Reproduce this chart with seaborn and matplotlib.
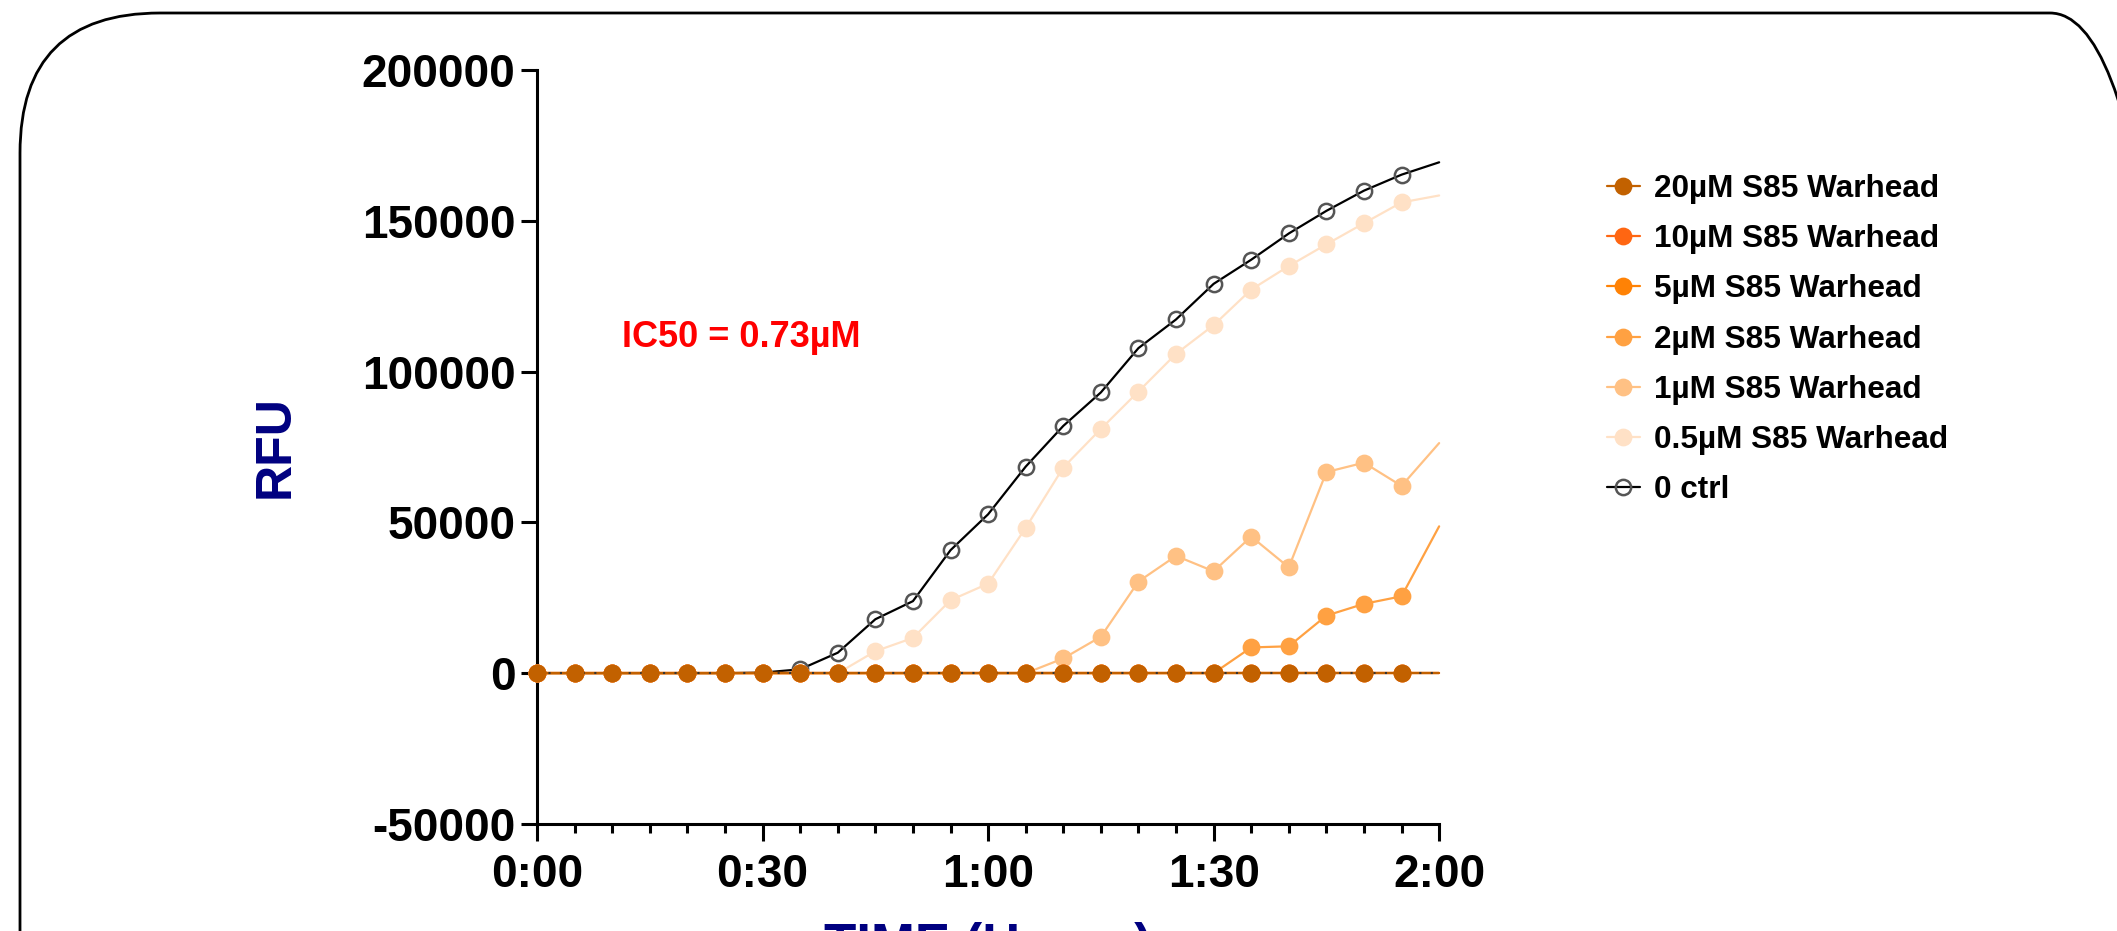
import matplotlib
matplotlib.use('Agg')
import matplotlib.pyplot as plt
from matplotlib.lines import Line2D
from matplotlib.patches import FancyBboxPatch
from matplotlib.transforms import IdentityTransform
import pandas as pd
import seaborn as sns

# time in minutes, one reading every 5 min
minutes = list(range(0, 125, 5))
major_ticks = [0, 30, 60, 90, 120]
time_labels = ['0:00', '0:30', '1:00', '1:30', '2:00']
rfu_ticks = [-50000, 0, 50000, 100000, 150000, 200000]

ctrl = [0, 0, 0, 0, 0, 0, 200, 1300, 6800, 17900, 23900, 40800, 52700,
        68500, 82000, 93100, 107800, 117300, 129100, 137100, 145800,
        153300, 160000, 165300, 169400]
w_05 = [0, 0, 0, 0, 0, 0, 0, 0, 0, 7300, 11700, 24200, 29700, 48200,
        68200, 81000, 93400, 105900, 115400, 127200, 135000, 142200,
        149200, 156100, 158400]
w_1 = [0, 0, 0, 0, 0, 0, 0, 0, 0, 0, 0, 0, 0, 0, 4900, 12100, 30400,
       38900, 33800, 45300, 35100, 66700, 69800, 62100, 76300]
w_2 = [0, 0, 0, 0, 0, 0, 0, 0, 0, 0, 0, 0, 0, 0, 0, 0, 0, 0, 0, 8550,
       8930, 19100, 23000, 25500, 48700]
w_5 = [0] * 25
w_10 = [0] * 25
w_20 = [0] * 25

names = ['20µM S85 Warhead', '10µM S85 Warhead', '5µM S85 Warhead',
         '2µM S85 Warhead', '1µM S85 Warhead', '0.5µM S85 Warhead', '0 ctrl']
colors = ['#C26100', '#FF6612', '#FF8205', '#FFA142', '#FFC184',
          '#FFE1C6', '#000000']

df = pd.DataFrame({'Minutes': minutes, names[0]: w_20, names[1]: w_10,
                   names[2]: w_5, names[3]: w_2, names[4]: w_1,
                   names[5]: w_05, names[6]: ctrl})
long = df.melt(id_vars='Minutes', var_name='Sample', value_name='RFU')

sns.set_theme(style='ticks')
plt.rcParams['font.family'] = ['Liberation Sans', 'DejaVu Sans']
plt.rcParams['font.weight'] = 'bold'
for key in ['text.color', 'axes.labelcolor', 'xtick.color', 'ytick.color',
            'axes.edgecolor']:
    plt.rcParams[key] = 'black'

fig = plt.figure(figsize=(21.17, 9.31), dpi=100)
ax = fig.add_axes([0.2537, 0.1149, 0.4261, 0.8099])

MS = 11
MEW = 1.8
marked = list(range(24))  # no marker on the 2:00 reading

# ctrl drawn first, 20µM last so the darkest points sit on top
handles = {}
for z, (name, col) in enumerate(reversed(list(zip(names, colors)))):
    sub = long[long['Sample'] == name]
    if name == '0 ctrl':
        mfc, mec = 'none', '#555555'
    else:
        mfc, mec = col, col
    top = name == names[0]
    sns.lineplot(data=sub, x='Minutes', y='RFU', ax=ax, color=col,
                 linewidth=1.6, marker=None if top else 'o', markersize=MS,
                 markerfacecolor=mfc, markeredgecolor=mec,
                 markeredgewidth=MEW, markevery=marked,
                 clip_on=False, zorder=3 + z, legend=False)
    handles[name] = Line2D([], [], color=col, linewidth=1.6, marker='o',
                           markersize=MS, markerfacecolor=mfc,
                           markeredgecolor=mec, markeredgewidth=MEW)

# dotted baseline showing through between the points
ax.axhline(0, color='#333333', linewidth=1.5, linestyle=(0, (1, 4.5)),
           zorder=20)
top = long[long['Sample'] == names[0]]
sns.lineplot(data=top, x='Minutes', y='RFU', ax=ax, color=colors[0],
             linestyle='none', marker='o', markersize=MS,
             markerfacecolor=colors[0], markeredgecolor=colors[0],
             markeredgewidth=MEW, markevery=marked, clip_on=False,
             zorder=21, legend=False)

ax.set_xlim(0, 120)
ax.set_ylim(-50000, 200000)
ax.set_xticks(major_ticks)
ax.set_xticklabels(time_labels)
ax.set_xticks(minutes, minor=True)
ax.set_yticks(rfu_ticks)
ax.set_yticklabels([str(v) for v in rfu_ticks])
sns.despine(ax=ax)
for side in ['left', 'bottom']:
    ax.spines[side].set_linewidth(2.2)
ax.tick_params(axis='both', which='major', labelsize=33, width=2.2,
               colors='black')
ax.tick_params(axis='x', which='major', length=12.5, pad=8)
ax.tick_params(axis='x', which='minor', length=6.5, width=2.2)
ax.tick_params(axis='y', which='major', length=11.5, pad=4)
for lab in ax.get_xticklabels() + ax.get_yticklabels():
    lab.set_fontweight('bold')

ax.set_ylabel('RFU', fontsize=36, fontweight='bold', color='#000080')
ax.yaxis.set_label_coords(-0.264, 0.5)
ax.set_xlabel('TIME (Hours)', fontsize=38, fontweight='bold',
              color='#000080')
ax.xaxis.set_label_coords(0.5, -0.130)

ax.text(11.3, 111200, 'IC50 = 0.73µM', color='#FF0000', fontsize=26,
        fontweight='bold', va='center', ha='left')

fig.legend([handles[n] for n in names], names, loc='upper left',
           bbox_to_anchor=(0.759, 0.813), frameon=False,
           prop={'weight': 'bold', 'size': 22.7}, handlelength=1.05,
           handletextpad=0.45, labelspacing=0.64, borderpad=0,
           borderaxespad=0, labelcolor='black')

# rounded frame around the whole graph, in pixels
frame = FancyBboxPatch((20, -300), 2170, 1218,
                       boxstyle='round,pad=0,rounding_size=140',
                       transform=IdentityTransform(), fill=False,
                       edgecolor='black', linewidth=2.0)
fig.patches.append(frame)

fig.savefig('out.png', dpi=100)
